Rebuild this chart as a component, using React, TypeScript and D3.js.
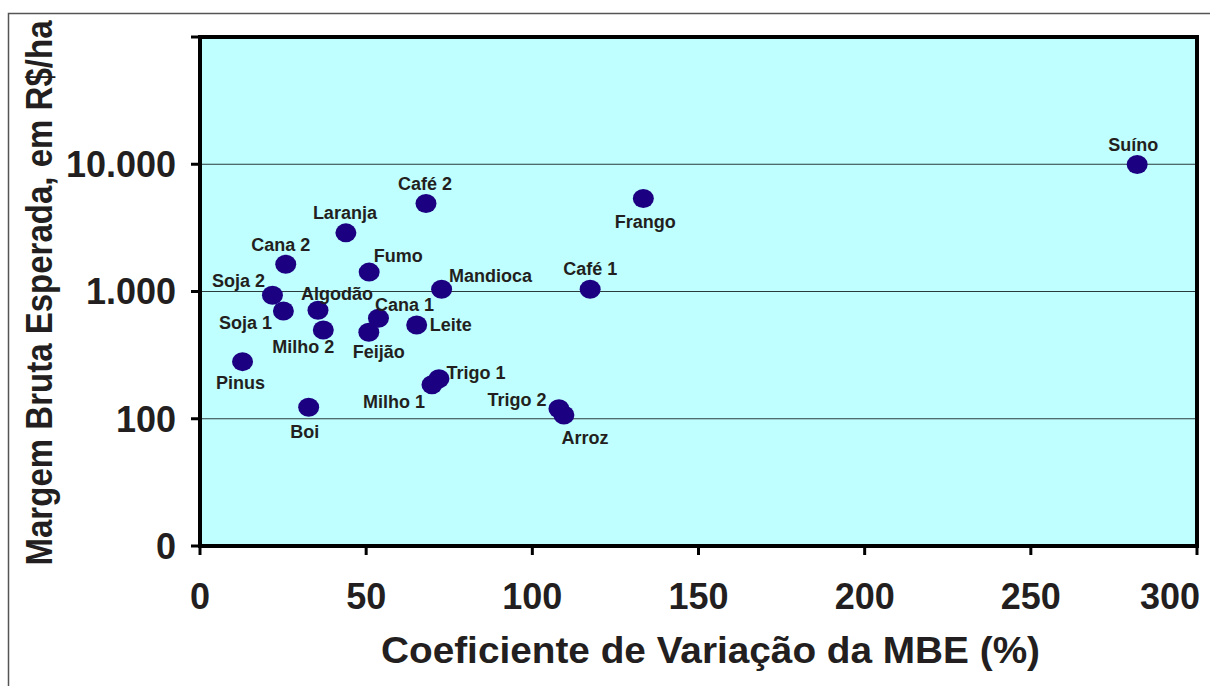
import * as React from 'react';
import * as d3 from 'd3';

// activities and their values
const names: string[] = [
    'Suíno', 'Frango', 'Café 1', 'Mandioca', 'Café 2', 'Laranja', 'Cana 2', 'Fumo',
    'Soja 2', 'Algodão', 'Cana 1', 'Soja 1', 'Leite', 'Milho 2', 'Feijão', 'Pinus',
    'Boi', 'Trigo 1', 'Milho 1', 'Trigo 2', 'Arroz'
];
// Coeficiente de Variação da MBE (%)
const cv: number[] = [
    282, 133.4, 117.4, 72.7, 68.0, 43.9, 25.8, 50.9,
    21.8, 35.5, 53.7, 25.1, 65.2, 37.1, 50.8, 12.8,
    32.7, 71.9, 69.8, 108.0, 109.5
];
// Margem Bruta Esperada (R$/ha)
const mbe: number[] = [
    9950, 5380, 1040, 1040, 4920, 2890, 1640, 1420,
    934, 712, 616, 703, 546, 499, 479, 281,
    123, 206, 185, 120, 107
];

const xTicks: number[] = [0, 50, 100, 150, 200, 250, 300];
const yTicks: number[] = [10, 100, 1000, 10000, 100000];
const yTickLabels: string[] = ['0', '100', '1.000', '10.000', ''];
const gridValues: number[] = [100, 1000, 10000];

// label placement around each point (dx, dy of label centre)
const labelOffsets: [number, number][] = [
    [-4, -20], [2, 23], [0, -21], [49, -14], [-1, -20], [-1, -20], [-5, -19], [29, -16],
    [-34, -15], [19, -17], [26, -14], [-38, 12], [34, 0], [-20, 17], [10, 20], [-2, 21],
    [-4, 24], [37, -6], [-38, 17], [-42, -9], [21, 23]
];

const W = 1210;
const H = 686;
const left = 200, right = 1197, top = 37, bottom = 546;
const font = '"Liberation Sans", Arial, sans-serif';
const ink = '#231f20';

export default function App() {
    const x = d3.scaleLinear().domain([0, 300]).range([left, right]);
    const y = d3.scaleLog().domain([10, 100000]).range([bottom, top]);

    return (
        <svg width={W} height={H} style={{ position: 'absolute', left: 0, top: 0, background: '#fff' }}>
            {/* outer frame */}
            <path d={`M8.5,${H + 2} V13.5 H${W + 2}`} fill="none" stroke="#555" strokeWidth={1.5} />

            <rect x={left} y={top} width={right - left} height={bottom - top} fill="#bfffff" />

            {gridValues.map((v) => (
                <line key={'g' + v} x1={left} x2={right} y1={y(v)} y2={y(v)} stroke="#2b3b3b" strokeWidth={1} />
            ))}

            {/* y ticks */}
            {yTicks.map((v, i) => (
                <g key={'yt' + v}>
                    <line x1={191} x2={left} y1={y(v)} y2={y(v)} stroke="#000" strokeWidth={3} />
                    <text x={176} y={y(v)} dy="0.36em" textAnchor="end" fontFamily={font}
                          fontWeight="bold" fontSize={36} fill={ink}>{yTickLabels[i]}</text>
                </g>
            ))}

            {/* x ticks */}
            {xTicks.map((v, i) => {
                const last = i === xTicks.length - 1;
                return (
                    <g key={'xt' + v}>
                        <line x1={x(v)} x2={x(v)} y1={bottom} y2={bottom + 9} stroke="#000" strokeWidth={3} />
                        <text x={last ? 1200 : x(v)} y={609} textAnchor={last ? 'end' : 'middle'} fontFamily={font}
                              fontWeight="bold" fontSize={36} fill={ink}>{v}</text>
                    </g>
                );
            })}

            <rect x={left} y={top} width={right - left} height={bottom - top} fill="none" stroke="#000" strokeWidth={4} />

            {/* points */}
            {names.map((n, i) => (
                <ellipse key={'p' + n} cx={x(cv[i])} cy={y(mbe[i])} rx={10.5} ry={9.5} fill="#1c0082" />
            ))}
            {names.map((n, i) => (
                <text key={'l' + n} x={x(cv[i]) + labelOffsets[i][0]} y={y(mbe[i]) + labelOffsets[i][1]}
                      dy="0.35em" textAnchor="middle" fontFamily={font} fontWeight="bold"
                      fontSize={18} fill={ink}>{n}</text>
            ))}

            <text x={381} y={663} fontFamily={font} fontWeight="bold" fontSize={37} fill={ink}
                  textLength={659} lengthAdjust="spacingAndGlyphs">Coeficiente de Variação da MBE (%)</text>
            <text transform="translate(52,293) rotate(-90)" textAnchor="middle" fontFamily={font}
                  fontWeight="bold" fontSize={37} fill={ink} textLength={545}
                  lengthAdjust="spacingAndGlyphs">Margem Bruta Esperada, em R$/ha</text>
        </svg>
    );
}
